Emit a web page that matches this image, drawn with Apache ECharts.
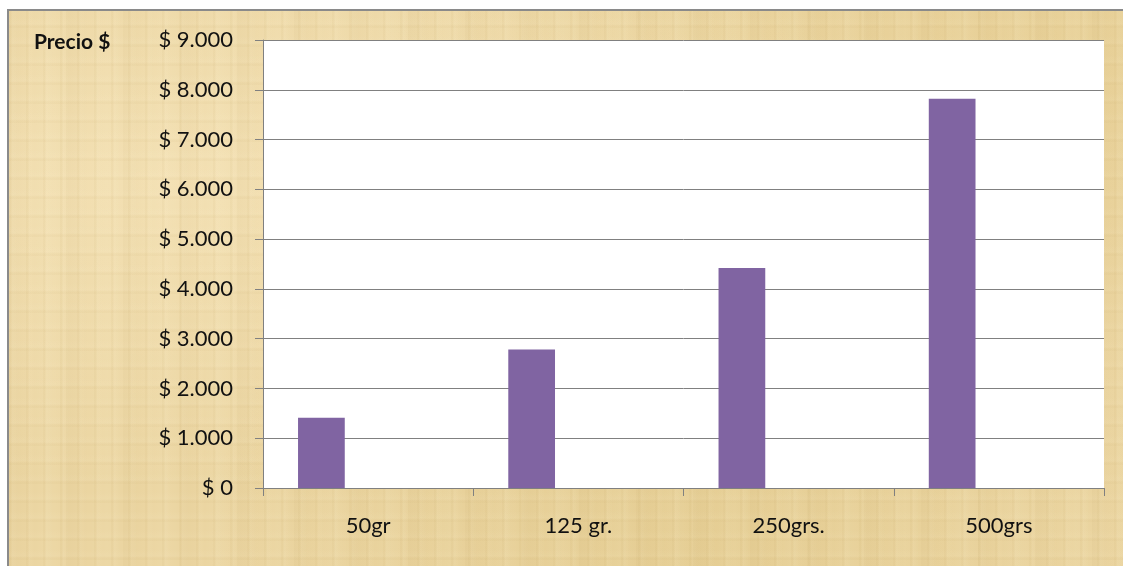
<!DOCTYPE html>
<html>
<head>
<meta charset="utf-8">
<script src="https://cdn.jsdelivr.net/npm/echarts@6/dist/echarts.min.js"></script>
<style>
  html, body { margin: 0; padding: 0; background: #ffffff; }
  body { width: 1123px; height: 566px; position: relative; overflow: hidden; }
  /* parchment panel behind the chart */
  #paper {
    position: absolute; left: 7px; top: 9px; width: 1130px; height: 570px;
    box-sizing: border-box;
    border-left: 2px solid #8a8a8a; border-top: 2px solid #8a8a8a;
    background-color: #ebd5a1;
    background-image:
      repeating-linear-gradient(90deg, rgba(190,160,95,0.07) 0px, rgba(190,160,95,0.07) 2px, rgba(255,245,215,0.08) 3px, rgba(255,245,215,0) 9px, rgba(190,160,95,0) 17px),
      repeating-linear-gradient(0deg, rgba(190,160,95,0.06) 0px, rgba(190,160,95,0.06) 2px, rgba(255,245,215,0.08) 4px, rgba(255,245,215,0) 11px, rgba(190,160,95,0) 19px),
      repeating-linear-gradient(90deg, rgba(170,140,80,0.05) 0px, rgba(170,140,80,0) 23px, rgba(255,250,225,0.07) 41px, rgba(170,140,80,0) 57px),
      radial-gradient(ellipse at 15% 30%, rgba(255,240,205,0.4), rgba(255,240,205,0) 55%),
      radial-gradient(ellipse at 60% 95%, rgba(222,196,130,0.45), rgba(222,196,130,0) 50%),
      radial-gradient(ellipse at 90% 10%, rgba(226,200,135,0.4), rgba(226,200,135,0) 45%);
  }
  #chart { position: absolute; left: 0; top: 0; width: 1123px; height: 566px; }
</style>
</head>
<body>
<div id="paper"></div>
<div id="chart"></div>
<script>
// Price per package size
const categories = ['50gr', '125 gr.', '250grs.', '500grs'];
const precios = [1410, 2780, 4420, 7820];
// two empty series that share the category slots with the price bars
const serieB = [null, null, null, null];
const serieC = [null, null, null, null];
const yMax = 9000;
const yStep = 1000;

const FONT = 'Lato, "Open Sans", sans-serif';

function pesos(v) {
  const s = String(Math.round(v)).replace(/\B(?=(\d{3})+(?!\d))/g, '.');
  return '$ ' + s;
}

const chart = echarts.init(document.getElementById('chart'), null, { renderer: 'canvas' });
chart.setOption({
  backgroundColor: 'transparent',
  animation: false,
  grid: {
    left: 263, right: 19, top: 40, bottom: 78,
    show: true, backgroundColor: '#ffffff', borderWidth: 0
  },
  xAxis: {
    type: 'category',
    data: categories,
    axisLine: { show: true, lineStyle: { color: '#808080', width: 1 } },
    axisTick: { show: true, length: 8, lineStyle: { color: '#808080', width: 1 } },
    axisLabel: { color: '#111111', fontFamily: FONT, fontSize: 22, margin: 27 }
  },
  yAxis: {
    type: 'value',
    min: 0, max: yMax, interval: yStep,
    axisLine: { show: true, lineStyle: { color: '#808080', width: 1 } },
    axisTick: { show: true, length: 8, lineStyle: { color: '#808080', width: 1 } },
    splitLine: { show: true, lineStyle: { color: '#808080', width: 1 } },
    axisLabel: { color: '#111111', fontFamily: FONT, fontSize: 22, margin: 30, formatter: pesos }
  },
  series: [
    { type: 'bar', data: precios, itemStyle: { color: '#8064a2' }, barGap: '0%', barCategoryGap: '33.33%' },
    { type: 'bar', data: serieB, itemStyle: { color: '#4f81bd' } },
    { type: 'bar', data: serieC, itemStyle: { color: '#c0504d' } }
  ],
  graphic: [
    {
      type: 'text', left: 34, top: 32,
      style: { text: 'Precio $', fill: '#111111', font: 'bold 21px ' + FONT }
    }
  ]
});
</script>
</body>
</html>
